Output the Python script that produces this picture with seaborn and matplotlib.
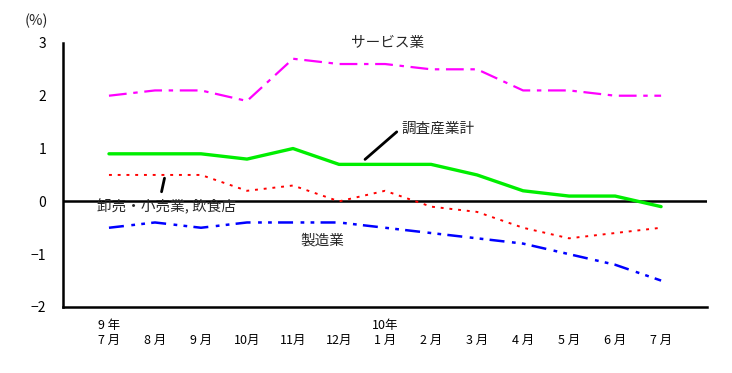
import numpy as np
import pandas as pd
import matplotlib
matplotlib.use("Agg")
import matplotlib.pyplot as plt
import seaborn as sns

# ── Data (前年同月比, %) ──
months = ["9 年\n7 月", "\n8 月", "\n9 月", "\n10月", "\n11月", "\n12月", "10年\n1 月",
          "\n2 月", "\n3 月", "\n4 月", "\n5 月", "\n6 月", "\n7 月"]
service = [2.0, 2.1, 2.1, 1.9, 2.7, 2.6, 2.6, 2.5, 2.5, 2.1, 2.1, 2.0, 2.0]
total = [0.9, 0.9, 0.9, 0.8, 1.0, 0.7, 0.7, 0.7, 0.5, 0.2, 0.1, 0.1, -0.1]
retail = [0.5, 0.5, 0.5, 0.2, 0.3, 0.0, 0.2, -0.1, -0.2, -0.5, -0.7, -0.6, -0.5]
manuf = [-0.5, -0.4, -0.5, -0.4, -0.4, -0.4, -0.5, -0.6, -0.7, -0.8, -1.0, -1.2, -1.5]

series = {"サービス業": service, "調査産業計": total,
          "卸売・小売業, 飲食店": retail, "製造業": manuf}
df = pd.concat([pd.DataFrame({"x": np.arange(len(months)), "value": v, "series": k})
                for k, v in series.items()], ignore_index=True)

sns.set_style("white")
plt.rcParams['font.family'] = ['Noto Sans CJK JP', 'DejaVu Sans']

fig = plt.figure(figsize=(7.32, 3.73), dpi=100)
ax = fig.add_axes([0.086, 0.177, 0.880, 0.708])

palette = {"サービス業": "#ff00ff", "調査産業計": "#00ee00",
           "卸売・小売業, 飲食店": "#ff0000", "製造業": "#0000ff"}
dashes = {"サービス業": (8, 3, 2, 3), "調査産業計": "",
          "卸売・小売業, 飲食店": (1.5, 3), "製造業": (6, 3, 1.5, 2.5, 1.5, 2.5)}
widths = {"サービス業": 1.6, "調査産業計": 2.4,
          "卸売・小売業, 飲食店": 1.4, "製造業": 1.8}

for name in series:
    sub = df[df["series"] == name]
    sns.lineplot(data=sub, x="x", y="value", ax=ax, color=palette[name],
                 linewidth=widths[name], legend=False)
    if dashes[name]:
        ax.lines[-1].set_dashes(dashes[name])

ax.axhline(0, color="black", linewidth=1.8, zorder=1)

# ── Axes ──
ax.set_xlim(-1, 13)
ax.set_ylim(-2, 3)
ax.set_xticks(np.arange(14))
ax.set_xticklabels(months + [""], fontsize=9, va="top", linespacing=1.15)
ax.set_yticks([-2, -1, 0, 1, 2, 3])
ax.set_yticklabels(["−2", "−1", "0", "1", "2", "3"], fontsize=10)
ax.tick_params(axis="both", direction="in", length=5, width=1.5, colors="black")
ax.tick_params(axis="x", pad=9)
ax.tick_params(axis="y", pad=12)
for s in ["top", "right"]:
    ax.spines[s].set_visible(False)
for s in ["left", "bottom"]:
    ax.spines[s].set_color("black")
    ax.spines[s].set_linewidth(1.8)
ax.set_xlabel("")
ax.set_ylabel("")

# ── Labels ──
fig.text(0.034, 0.945, "(%)", fontsize=10.5, va="center")
ax.text(5.26, 3.0, "サービス業", fontsize=10.5, ha="left", va="center")
ax.text(6.35, 1.37, "調査産業計", fontsize=10.5, ha="left", va="center")
ax.annotate("", xy=(5.52, 0.76), xytext=(6.3, 1.35),
            arrowprops=dict(arrowstyle="-", color="black", lw=2))
ax.text(-0.25, -0.09, "卸売・小売業, 飲食店", fontsize=10.5, ha="left", va="center")
ax.annotate("", xy=(1.22, 0.49), xytext=(1.13, 0.13),
            arrowprops=dict(arrowstyle="-", color="black", lw=2))
ax.text(4.17, -0.74, "製造業", fontsize=10.5, ha="left", va="center")

plt.savefig("out.png", dpi=100)
